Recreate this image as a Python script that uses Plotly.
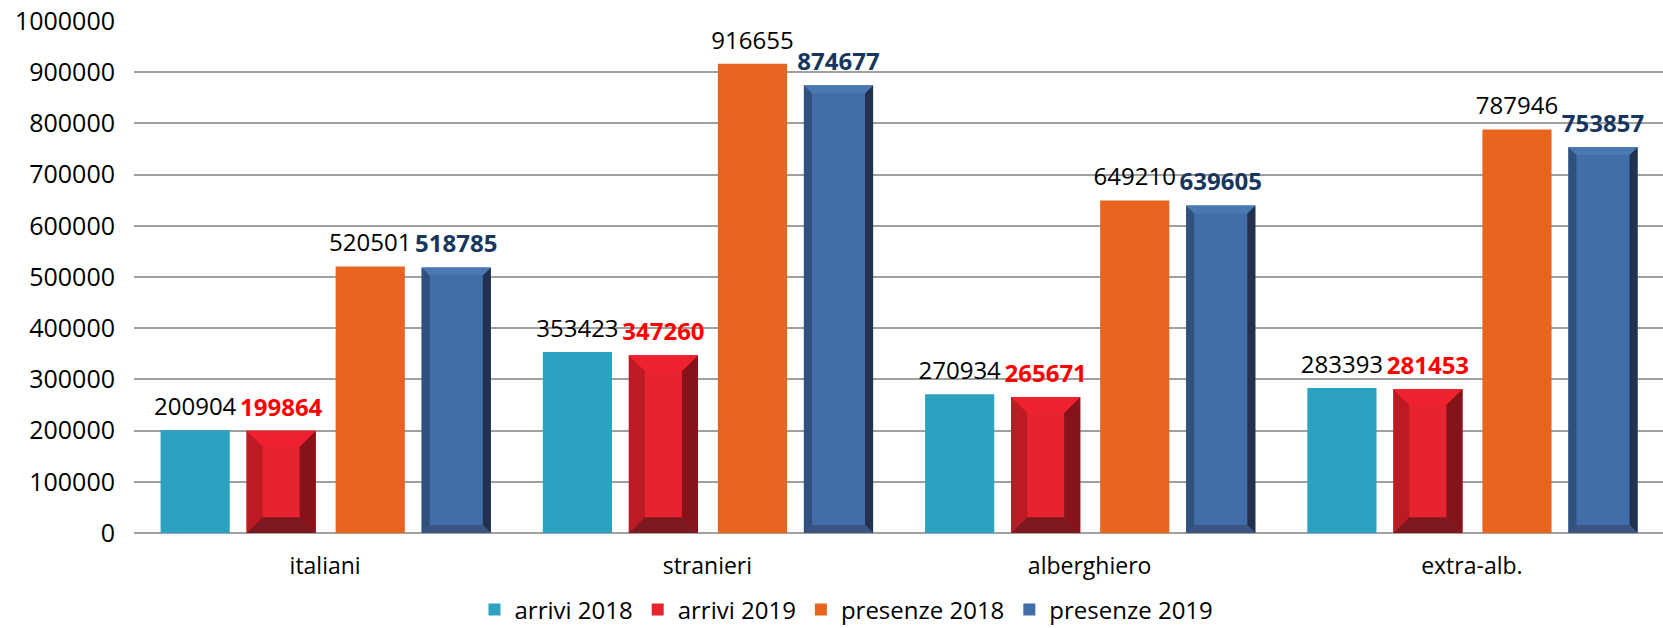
import plotly.graph_objects as go

categories = ["italiani", "stranieri", "alberghiero", "extra-alb."]
series_names = ["arrivi 2018", "arrivi 2019", "presenze 2018", "presenze 2019"]
arrivi_2018 = [200904, 353423, 270934, 283393]
arrivi_2019 = [199864, 347260, 265671, 281453]
presenze_2018 = [520501, 916655, 649210, 787946]
presenze_2019 = [518785, 874677, 639605, 753857]
y_ticks = [0, 100000, 200000, 300000, 400000, 500000, 600000, 700000, 800000, 900000, 1000000]

FONT = "Open Sans"
values = [arrivi_2018, arrivi_2019, presenze_2018, presenze_2019]
shifts = [-0.34, -0.115, 0.118, 0.343]
bar_w = 0.181
face_colors = ["#2CA2C0", "#E5242F", "#E8651F", "#416EA8"]
label_styles = [
    dict(color="#000000", size=24, family=FONT, weight="normal"),
    dict(color="#FF0000", size=24, family=FONT, weight="bold"),
    dict(color="#000000", size=24, family=FONT, weight="normal"),
    dict(color="#17365D", size=24, family=FONT, weight="bold"),
]
# bevel: (bx in category units, by in data units, colours left/right/top/bottom)
bevels = {
    1: (0.042, 31000, "#BD1B23", "#86121A", "#EF212E", "#7B1820"),
    3: (0.021, 15600, "#30507D", "#22314E", "#4A78B2", "#3B5580"),
}

fig = go.Figure()
xs_all = []
for k, (name, vals) in enumerate(zip(series_names, values)):
    xs = [i + shifts[k] for i in range(len(categories))]
    xs_all.append(xs)
    fig.add_trace(go.Bar(
        x=xs, y=vals, width=bar_w, name=name,
        marker=dict(color=face_colors[k], line=dict(width=0)),
        hoverinfo="y",
    ))

# bevel polygons
for k, (bx, by, cl, cr, ct, cb) in bevels.items():
    sides = {"l": ([], []), "r": ([], []), "t": ([], []), "b": ([], [])}
    for xc, v in zip(xs_all[k], values[k]):
        L, R, T = xc - bar_w / 2, xc + bar_w / 2, v
        polys = {
            "l": [(L, 0), (L, T), (L + bx, T - by), (L + bx, by), (L, 0)],
            "r": [(R, 0), (R, T), (R - bx, T - by), (R - bx, by), (R, 0)],
            "t": [(L, T), (R, T), (R - bx, T - by), (L + bx, T - by), (L, T)],
            "b": [(L, 0), (R, 0), (R - bx, by), (L + bx, by), (L, 0)],
        }
        for s, pts in polys.items():
            sides[s][0].extend([p[0] for p in pts] + [None])
            sides[s][1].extend([p[1] for p in pts] + [None])
    for s, col in zip(["l", "r", "t", "b"], [cl, cr, ct, cb]):
        fig.add_trace(go.Scatter(
            x=sides[s][0], y=sides[s][1], mode="lines", fill="toself",
            fillcolor=col, line=dict(width=0, color=col),
            showlegend=False, hoverinfo="skip",
        ))

# data labels
for k, vals in enumerate(values):
    fig.add_trace(go.Scatter(
        x=xs_all[k], y=vals, mode="markers+text",
        text=[str(v) for v in vals], textposition="top center",
        textfont=label_styles[k],
        marker=dict(size=13, opacity=0),
        showlegend=False, hoverinfo="skip", cliponaxis=False,
    ))

fig.update_layout(
    width=1663, height=628,
    margin=dict(l=134, r=0, t=21, b=95, autoexpand=False),
    paper_bgcolor="white", plot_bgcolor="white",
    barmode="overlay",
    font=dict(family=FONT, size=23, color="#000000"),
    legend=dict(
        orientation="h", x=0.466, xanchor="center", y=-0.150, yanchor="middle",
        font=dict(size=24, family=FONT, color="#000000"),
        itemsizing="constant", traceorder="normal",
    ),
    xaxis=dict(
        range=[-0.5, 3.5], tickmode="array",
        tickvals=list(range(len(categories))), ticktext=categories,
        showgrid=False, zeroline=False, showline=False, automargin=False,
        ticks="outside", ticklen=12, tickcolor="rgba(0,0,0,0)",
        tickfont=dict(size=23, family=FONT, color="#000000"),
    ),
    yaxis=dict(
        range=[0, 1000000], tickmode="array", tickvals=y_ticks,
        ticktext=[str(t) for t in y_ticks], automargin=False,
        ticklabeloverflow="allow",
        showgrid=True, gridcolor="#A0A0A0", gridwidth=1.5,
        zeroline=True, zerolinecolor="#A0A0A0", zerolinewidth=1.5,
        showline=False,
        ticks="outside", ticklen=13, tickcolor="rgba(0,0,0,0)",
        tickfont=dict(size=25, family=FONT, color="#000000"),
    ),
)

fig.write_html(
    "out.html",
    config={"displayModeBar": False},
    post_script="document.body.style.margin='0';document.body.style.overflow='hidden';",
)
